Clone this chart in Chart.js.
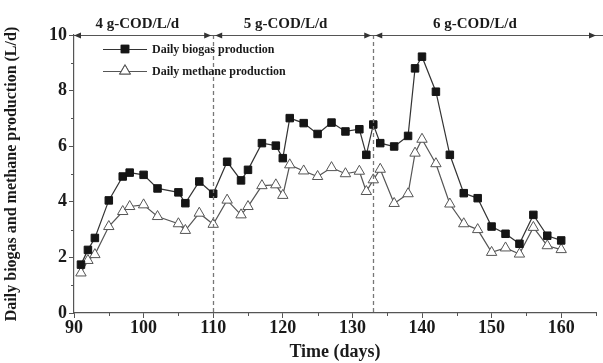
<!DOCTYPE html>
<html>
<head>
<meta charset="utf-8">
<script src="https://cdn.jsdelivr.net/npm/chart.js@4/dist/chart.umd.min.js"></script>
<style>
html,body{margin:0;padding:0;background:#fff;}
#wrap{width:603px;height:363px;position:relative;}
</style>
</head>
<body>
<div id="wrap"><canvas id="c" width="603" height="363"></canvas></div>
<script>
const days = [91,92,93,95,97,98,100,102,105,106,108,110,112,114,115,117,119,120,121,123,125,127,129,131,132,133,134,136,138,139,140,142,144,146,148,150,152,154,156,158,160];
const biogas = [1.74,2.27,2.70,4.05,4.91,5.05,4.97,4.48,4.34,3.95,4.73,4.29,5.44,4.77,5.15,6.11,6.02,5.57,7.01,6.83,6.44,6.85,6.53,6.61,5.69,6.78,6.11,5.99,6.37,8.80,9.22,7.96,5.69,4.31,4.13,3.11,2.85,2.49,3.53,2.78,2.61];
const methane = [1.44,1.89,2.10,3.11,3.65,3.83,3.89,3.47,3.21,2.97,3.59,3.19,4.06,3.53,3.83,4.58,4.61,4.23,5.33,5.11,4.91,5.23,5.01,5.10,4.37,4.79,5.17,3.94,4.29,5.75,6.25,5.37,3.92,3.21,3.00,2.18,2.34,2.12,3.08,2.42,2.28];
const seriesNames = ['Daily biogas production','Daily methane production'];
const phaseBounds = [90,110,133,165];
const phaseLabels = ['4 g-COD/L/d','5 g-COD/L/d','6 g-COD/L/d'];
const phaseLabelDays = [99.1,120.4,147.6];
const phaseLevel = 10;
const xTickLabels = [90,100,110,120,130,140,150,160];
const yTickLabels = [0,2,4,6,8,10];

const SERIF = '"Liberation Serif","Times New Roman",serif';
const INK = '#1a1a1a';
const AXIS = '#555';

const toPts = (vals) => days.map((d,i)=>({x:d,y:vals[i]}));

function arrowHead(ctx,x,y,dir){
  const L=7,H=3;
  ctx.beginPath();
  ctx.moveTo(x,y);
  ctx.lineTo(x-dir*L,y-H);
  ctx.lineTo(x-dir*L,y+H);
  ctx.closePath();
  ctx.fill();
}

const overlay = {
  id:'overlay',
  afterDatasetsDraw(chart){
    const ctx=chart.ctx, xs=chart.scales.x, ys=chart.scales.y;
    const top=ys.getPixelForValue(phaseLevel), bottom=ys.getPixelForValue(0);
    ctx.save();
    // minor ticks (shorter)
    ctx.strokeStyle=AXIS; ctx.lineWidth=1;
    xs.ticks.forEach(t=>{ if(!xTickLabels.includes(t.value)){ const px=Math.round(xs.getPixelForValue(t.value))+0.5; ctx.beginPath(); ctx.moveTo(px,bottom); ctx.lineTo(px,bottom+3); ctx.stroke(); }});
    ys.ticks.forEach(t=>{ if(!yTickLabels.includes(t.value)){ const py=Math.round(ys.getPixelForValue(t.value))+0.5; const lx=xs.left; ctx.beginPath(); ctx.moveTo(lx,py); ctx.lineTo(lx-3,py); ctx.stroke(); }});
    // dashed separators
    ctx.strokeStyle='#777'; ctx.lineWidth=1.3; ctx.setLineDash([4,3]);
    for(let i=1;i<phaseBounds.length-1;i++){
      const px=Math.round(xs.getPixelForValue(phaseBounds[i]))+0.5;
      ctx.beginPath(); ctx.moveTo(px,top); ctx.lineTo(px,bottom); ctx.stroke();
    }
    ctx.setLineDash([]);
    // phase arrows
    ctx.strokeStyle=AXIS; ctx.fillStyle='#333'; ctx.lineWidth=1.2;
    const yy=Math.round(top)+0.5;
    ctx.beginPath(); ctx.moveTo(xs.getPixelForValue(phaseBounds[0]),yy); ctx.lineTo(chart.width,yy); ctx.stroke();
    for(let i=0;i<phaseBounds.length-1;i++){
      let a=xs.getPixelForValue(phaseBounds[i]), b=xs.getPixelForValue(phaseBounds[i+1]);
      if(i>0) a+=2;
      if(i<phaseBounds.length-2) b-=2; else b=Math.min(b,chart.width);
      arrowHead(ctx,a,yy,-1);
      arrowHead(ctx,b,yy,1);
    }
    // phase labels
    ctx.fillStyle=INK; ctx.font='bold 15px '+SERIF; ctx.textAlign='center'; ctx.textBaseline='alphabetic';
    phaseLabels.forEach((t,i)=>{ ctx.fillText(t, xs.getPixelForValue(phaseLabelDays[i]), 28); });
    // legend
    const ds=chart.data.datasets;
    const rows=[49,71];
    ds.forEach((d,i)=>{
      const y=rows[i];
      ctx.strokeStyle=d.borderColor; ctx.lineWidth=1.2;
      ctx.beginPath(); ctx.moveTo(103,y+0.5); ctx.lineTo(147,y+0.5); ctx.stroke();
      Chart.helpers.drawPoint(ctx,{pointStyle:d.pointStyle,radius:d.pointRadius,borderWidth:d.pointBorderWidth||1,rotation:0},125,y);
      ctx.fillStyle=d.pointBackgroundColor; ctx.strokeStyle=d.pointBorderColor; ctx.lineWidth=d.pointBorderWidth||1;
      ctx.fill(); ctx.stroke();
      ctx.fillStyle=INK; ctx.font='bold 12px '+SERIF; ctx.textAlign='left'; ctx.textBaseline='middle';
      ctx.fillText(seriesNames[i],152,y+1);
    });
    ctx.restore();
  }
};

new Chart(document.getElementById('c'),{
  type:'line',
  data:{datasets:[
    {label:seriesNames[0],data:toPts(biogas),borderColor:'#333',borderWidth:1.2,pointStyle:'rect',pointRadius:5.3,pointBackgroundColor:'#151515',pointBorderColor:'#151515',pointBorderWidth:1,tension:0},
    {label:seriesNames[1],data:toPts(methane),borderColor:'#555',borderWidth:1.2,pointStyle:'triangle',pointRadius:6,pointBackgroundColor:'#fff',pointBorderColor:'#555',pointBorderWidth:1,tension:0}
  ]},
  options:{
    responsive:false,animation:false,
    layout:{padding:{top:35,right:0,left:0,bottom:0}},
    plugins:{legend:{display:false},tooltip:{enabled:false}},
    scales:{
      x:{type:'linear',min:90,max:165,
        border:{display:true,color:AXIS,width:1.2},
        grid:{drawOnChartArea:false,drawTicks:true,tickLength:5,color:AXIS,
          tickColor:(c)=>xTickLabels.includes(c.tick&&c.tick.value)?AXIS:'rgba(0,0,0,0)'},
        ticks:{stepSize:5,autoSkip:false,maxRotation:0,padding:0,color:INK,font:{family:SERIF,size:18,weight:'bold'},
          callback:(v)=>xTickLabels.includes(v)?String(v):''},
        title:{display:true,text:'Time (days)',color:INK,font:{family:SERIF,size:18,weight:'bold'},padding:0},
        afterFit:(s)=>{s.height=50;}
      },
      y:{min:0,max:10,
        border:{display:true,color:AXIS,width:1.2},
        grid:{drawOnChartArea:false,drawTicks:true,tickLength:5,color:AXIS,
          tickColor:(c)=>yTickLabels.includes(c.tick&&c.tick.value)?AXIS:'rgba(0,0,0,0)'},
        ticks:{stepSize:1,autoSkip:false,padding:2,color:INK,font:{family:SERIF,size:18,weight:'bold'},
          callback:(v)=>yTickLabels.includes(v)?String(v):''},
        title:{display:true,text:'Daily biogas and methane production (L/d)',color:INK,font:{family:SERIF,size:16,weight:'bold'},padding:{top:2,bottom:0}},
        afterFit:(s)=>{s.width=74;}
      }
    }
  },
  plugins:[overlay]
});
</script>
</body>
</html>
